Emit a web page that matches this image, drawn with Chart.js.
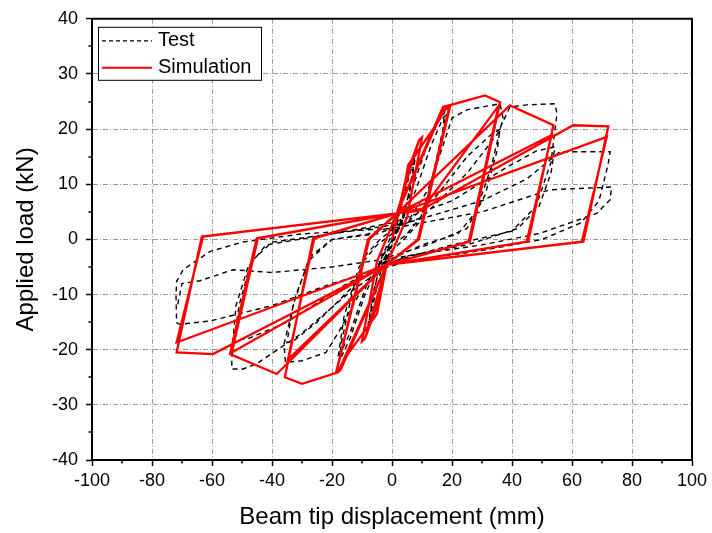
<!DOCTYPE html>
<html>
<head>
<meta charset="utf-8">
<script src="https://cdn.jsdelivr.net/npm/chart.js@4.4.1/dist/chart.umd.min.js"></script>
<style>
  html, body { margin: 0; padding: 0; background: #fff; }
  #wrap { width: 712px; height: 533px; }
</style>
</head>
<body>
<div id="wrap"><canvas id="c"></canvas></div>
<script>
// ---- data (displacement in mm, load in kN) ----
const xTickValues = [-100, -80, -60, -40, -20, 0, 20, 40, 60, 80, 100];
const yTickValues = [-40, -30, -20, -10, 0, 10, 20, 30, 40];

const testDisp = [
  0, 2, 3, 1.5, -1, -2, -3, -1.5, 0,
  3, 6, 8, 6.5, 4, 0, -3, -6, -8, -6.5, -4, 0,
  3, 6, 8, 6, 3, -3, -6, -8, -6, -3,
  2, 6, 11, 15, 17.5, 17, 13, 9, 4, -4, -9, -14, -17.5, -17, -13, -9, -4,
  3, 8, 13, 17, 18, 15, 11, 5, -4, -9, -14, -18, -16, -11, -5,
  5, 12, 17, 20, 25, 36, 37, 33, 28, 22, 10, -2, -10, -18, -22, -30, -35.5, -36, -32, -27, -20, -8,
  5, 15, 25, 33, 36, 35, 31, 25, 12, 0, -12, -25, -33, -35, -33, -28, -20,
  -5, 10, 25, 35, 39.3, 45, 54.3, 55, 53, 48, 40, 20, 0, -15, -30, -45, -49.6, -53.4, -53.4, -51, -47, -40, -20,
  0, 20, 38, 48, 54.3, 53, 49, 42, 25, 5, -15, -35, -48, -53, -52, -48, -42,
  -20, 5, 30, 45, 56, 72.7, 72, 69, 63, 50, 30, 5, -20, -40, -60.7, -70.7, -71.8, -72, -71.8, -69.6, -60.7, -50, -30,
  0, 30, 52.7, 73.2, 72.7, 68.2, 49.3, 30, 5, -20, -40, -53, -64, -70, -71.5
];
const testLoad = [
  0, 4, 6.5, 2, -2, -4.5, -6.5, -2, 0,
  7, 13, 16.5, 11, 4, -1, -6, -13, -16.5, -11, -4, 1,
  6, 12, 15.5, 9, 3, -4, -11, -15.5, -9, -3,
  2, 8, 16, 21, 23, 20, 10, 3, 0, -4, -10, -18, -22, -19, -9, -3, 0,
  3, 9, 17, 22, 22.5, 14, 5, 1, -3, -9, -17, -21.5, -14, -5, -1,
  3, 9, 17, 22, 23.5, 24.6, 22, 13, 5, 1, -1, -4, -9, -17, -20.5, -22, -22.3, -19, -10, -3, 0, 1,
  3, 8, 15, 19, 20, 16, 8, 2, -1, -3, -8, -15, -18.5, -18.7, -12, -4, 0,
  1, 4, 12, 19, 24, 24.4, 24.6, 22.8, 14, 6, 1.5, -1, -4, -10, -17, -22.5, -23.5, -23.5, -21.4, -12, -4, -0.5, 1,
  3, 7, 13, 16, 16.8, 12, 6, 2, -1, -3, -8, -15, -18, -18.3, -12, -5, -1,
  1, 3, 7, 11, 15.9, 15.9, 13.5, 7, 3, 0, -2, -4, -8, -12, -14.8, -15.4, -15.1, -10, -7.6, -5.5, -2.2, -0.5, 1,
  2, 5, 9, 9.5, 7.2, 4.7, 1.1, -1, -3, -5, -6, -5.5, -7.5, -8, -12
];

const simDisp = [
  0, 5, 9, 10, 5, -1.8, -5, -9, -10, -5, 1.6, 9, 10, 5, -1.8, -9, -10, -5, 1.6,
  2.7, 5.4, 15, 18, 19.3, 9, -1.8, -5, -15, -17.3, -18.5, -8, 1.6, 17, 19, 8.6, -1.8, -17, -18.5, -7.6, 1.6,
  17, 31, 36, 26, -1.8, -18, -30, -35.7, -26.3, 1.6, 10.3, 35.5, 25.6, -1.8, -34.7, -25.9, 1.6,
  39.3, 53.8, 45.4, -1.8, -38.4, -54, -45.1, 1.6, 53.2, 44.9, -1.8, -53.4, -44.7, 1.6,
  9.3, 60.4, 72.1, 63.8, -1.8, -59.7, -71.8, -63.4, 1.6, 71.6, 63.3, -1.8, -71.8, -63, 1.6
];
const simLoad = [
  0, 12, 18, 18.5, 4, -4.6, -12, -18, -18.5, -4, 4.7, 18, 18.5, 4, -4.6, -18, -18.5, -4, 4.7,
  5, 13.5, 21, 23.8, 24, 0, -4.6, -13.5, -21, -23.8, -24, 0, 4.7, 23.5, 23.8, 0, -4.6, -23.5, -23.8, 0, 4.7,
  24, 26.1, 24.9, -0.4, -4.6, -24.1, -26.2, -25, 0.2, 4.7, 5.6, 24.2, -0.4, -4.6, -21.8, 0.2, 4.7,
  24.3, 20.7, -0.4, -4.6, -24.4, -20.8, 0.2, 4.7, 18.9, -0.4, -4.6, -20.5, 0.2, 4.7,
  5.2, 20.7, 20.5, -0.4, -4.6, -20.8, -20.5, 0.5, 4.7, 18.6, -0.4, -4.6, -18.7, 0.5, 4.7
];

const zip = (xs, ys) => xs.map((x, i) => ({ x: x, y: ys[i] }));

// frame on top/right, minor ticks, and the boxed legend inside the plot
const framePlugin = {
  id: 'frame',
  afterDraw(chart) {
    const { ctx, chartArea: a, scales: { x, y } } = chart;
    ctx.save();
    ctx.strokeStyle = '#000';
    ctx.lineWidth = 2;
    ctx.beginPath();
    ctx.moveTo(a.left, a.top); ctx.lineTo(a.right, a.top); ctx.lineTo(a.right, a.bottom);
    ctx.stroke();

    ctx.lineWidth = 1.5;
    ctx.beginPath();
    for (let i = 0; i < xTickValues.length - 1; i++) {
      const px = Math.round(x.getPixelForValue((xTickValues[i] + xTickValues[i + 1]) / 2));
      ctx.moveTo(px, a.bottom); ctx.lineTo(px, a.bottom + 3.5);
    }
    for (let i = 0; i < yTickValues.length - 1; i++) {
      const py = Math.round(y.getPixelForValue((yTickValues[i] + yTickValues[i + 1]) / 2));
      ctx.moveTo(a.left, py); ctx.lineTo(a.left - 3.5, py);
    }
    ctx.stroke();

    // legend
    const bx = a.left + 6, by = a.top + 8, bw = 163, bh = 53;
    ctx.fillStyle = '#fff';
    ctx.fillRect(bx, by, bw, bh);
    ctx.lineWidth = 1;
    ctx.strokeStyle = '#000';
    ctx.strokeRect(bx + 0.5, by + 0.5, bw, bh);
    ctx.font = '20px "Liberation Sans", Arial, sans-serif';
    ctx.textBaseline = 'middle';
    chart.data.datasets.forEach((ds, i) => {
      const cy = by + 14 + i * 27;
      ctx.save();
      ctx.strokeStyle = ds.borderColor;
      ctx.lineWidth = ds.label === 'Test' ? 1.2 : 2;
      ctx.setLineDash(ds.label === 'Test' ? [4, 3] : []);
      ctx.beginPath();
      ctx.moveTo(bx + 4, cy); ctx.lineTo(bx + 54, cy);
      ctx.stroke();
      ctx.restore();
      ctx.fillStyle = '#000';
      ctx.fillText(ds.label, bx + 60, cy);
    });
    ctx.restore();
  }
};

const gridStyle = {
  color: '#9a9a9a',
  lineWidth: 1,
  drawTicks: true,
  tickLength: 6,
  tickColor: '#000',
  tickWidth: 1.5
};
const borderStyle = { display: true, color: '#000', width: 2, dash: [5, 2, 1, 2] };
const tickFont = { family: '"Liberation Sans", Arial, sans-serif', size: 18 };
const titleFont = { family: '"Liberation Sans", Arial, sans-serif', size: 24 };

new Chart(document.getElementById('c'), {
  type: 'scatter',
  data: {
    datasets: [
      {
        label: 'Test',
        data: zip(testDisp, testLoad),
        showLine: true,
        borderColor: '#000',
        borderWidth: 1.4,
        borderDash: [5, 4],
        pointRadius: 0,
        tension: 0,
        order: 2
      },
      {
        label: 'Simulation',
        data: zip(simDisp, simLoad),
        showLine: true,
        borderColor: '#ff0000',
        borderWidth: 2.3,
        pointRadius: 0,
        tension: 0,
        order: 1
      }
    ]
  },
  options: {
    responsive: true,
    maintainAspectRatio: false,
    animation: false,
    devicePixelRatio: 1,
    layout: { padding: { top: 16, right: 20, left: 0, bottom: 0 } },
    plugins: { legend: { display: false }, tooltip: { enabled: false } },
    scales: {
      x: {
        type: 'linear',
        min: -100, max: 100,
        afterFit: s => { s.height = 73; },
        afterBuildTicks: s => { s.ticks = xTickValues.map(v => ({ value: v })); },
        ticks: { font: tickFont, color: '#000', padding: 4, maxRotation: 0, autoSkip: false },
        grid: gridStyle,
        border: borderStyle,
        title: { display: true, text: 'Beam tip displacement (mm)', font: titleFont, color: '#000', padding: { top: 0, bottom: 1 } }
      },
      y: {
        type: 'linear',
        min: -40, max: 40,
        afterFit: s => { s.width = 92; },
        afterBuildTicks: s => { s.ticks = yTickValues.map(v => ({ value: v })); },
        ticks: { font: tickFont, color: '#000', padding: 8, autoSkip: false },
        grid: gridStyle,
        border: borderStyle,
        title: { display: true, text: 'Applied load (kN)', font: titleFont, color: '#000', padding: { top: 12, bottom: 0 } }
      }
    }
  },
  plugins: [framePlugin]
});
</script>
</body>
</html>
